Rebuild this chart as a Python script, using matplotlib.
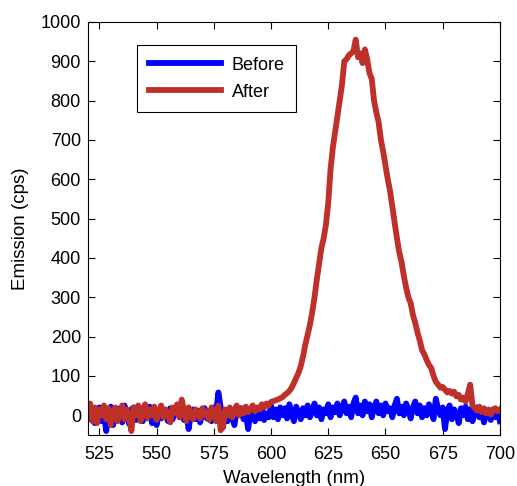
import numpy as np
import matplotlib.pyplot as plt

plt.rcParams['font.family'] = ['Liberation Sans', 'DejaVu Sans']

# Wavelength grid (nm), 1 nm steps
wavelength = np.arange(520, 701, 1)

# Emission before treatment (cps)
before = [
    25, -10, 15, -20, 5, 20, -15, 10, -40, 8,
    22, -25, 12, -5, 18, -18, 25, 0, -22, 15,
    20, -12, 8, 18, -15, 10, -5, 22, -20, 5,
    -25, 12, -8, 15, 0, -15, 18, -10, 10, 20,
    -5, 15, -12, 8, -35, 5, 15, -10, 12, -18,
    5, 18, -8, 10, -15, 20, 5, 58, 20, -30,
    10, -15, 15, -5, -25, 12, 0, 18, -10, 5,
    -35, 10, 15, -15, 8, -8, 20, -12, 5, -5,
    25, -5, 15, -10, 20, 0, 18, -8, 28, 5,
    -15, 22, 5, -10, 18, 0, 25, -5, 12, 30,
    0, 20, -10, 15, 5, 28, -5, 20, 8, 30,
    0, 18, 35, 5, 22, -5, 30, 45, 5, 25,
    0, 35, 10, 28, -5, 20, 35, 5, 25, 0,
    30, 10, 18, -5, 25, 42, 5, 22, 0, 30,
    15, -8, 20, 35, 5, 25, -5, 18, 0, 28,
    10, -10, 42, 15, 0, 20, -35, 10, 25, -10,
    15, 5, -20, 18, 0, 22, -10, 15, -15, 5,
    20, -5, 12, -18, 8, 0, -12, 15, -5, 10,
    -15,
]

# Emission after treatment (cps)
after = [
    5, 30, -15, 20, -20, 15, 0, 25, -10, 18,
    -25, 10, 20, -15, 5, 25, -10, 15, -5, -40,
    20, 0, 25, -15, 10, 28, -8, 15, 0, 22,
    -12, 10, 25, -5, 15, 0, -18, 20, 5, 28,
    -5, 40, 10, -15, 20, 0, -10, 15, 5, -8,
    18, 0, 10, -12, 20, 5, -15, 25, -38, -30,
    15, 0, 20, -5, 12, 25, 0, 18, 5, 22,
    8, 15, 25, 10, 20, 15, 28, 20, 30, 25,
    34, 36, 38, 40, 43, 46, 52, 56, 62, 70,
    82, 95, 108, 125, 150, 180, 205, 230, 262, 300,
    345, 385, 425, 450, 485, 540, 625, 680, 720, 760,
    800, 840, 900, 905, 915, 920, 925, 955, 910, 920,
    895, 930, 905, 870, 855, 800, 770, 745, 700, 670,
    635, 600, 570, 530, 490, 450, 415, 390, 355, 325,
    300, 285, 255, 235, 210, 190, 165, 155, 140, 128,
    120, 100, 85, 78, 70, 72, 65, 58, 62, 55,
    60, 48, 52, 40, 45, 35, 55, 78, 25, 18,
    12, 22, 8, 18, 5, 15, 2, 12, 18, 10,
    15,
]

fig = plt.figure(figsize=(5.17, 4.86), dpi=100)
ax = fig.add_axes([0.170, 0.105, 0.797, 0.850])

ax.plot(wavelength, before, color='#0000ff', linewidth=4.2, label='Before')
ax.plot(wavelength, after, color='#c0302a', linewidth=4.2, label='After')

ax.set_xlim(520, 700)
ax.set_ylim(-50, 1000)
ax.set_xticks(np.arange(525, 701, 25))
ax.set_yticks(np.arange(0, 1001, 100))
ax.tick_params(direction='in', top=True, right=True, length=5, width=0.8,
               labelsize=13)
ax.tick_params(axis='x', pad=8)
ax.tick_params(axis='y', pad=5)
for spine in ax.spines.values():
    spine.set_linewidth(0.8)

ax.set_xlabel('Wavelength (nm)', fontsize=13.5, labelpad=5)
ax.set_ylabel('Emission (cps)', fontsize=13.5, labelpad=8)

leg = ax.legend(loc='upper left', bbox_to_anchor=(0.119, 0.944), borderaxespad=0,
                fontsize=13, fancybox=False, edgecolor='black', framealpha=1,
                handlelength=4.0, handletextpad=0.6, borderpad=0.65,
                labelspacing=0.55)
leg.get_frame().set_linewidth(0.8)

fig.savefig('out.png', dpi=100)
